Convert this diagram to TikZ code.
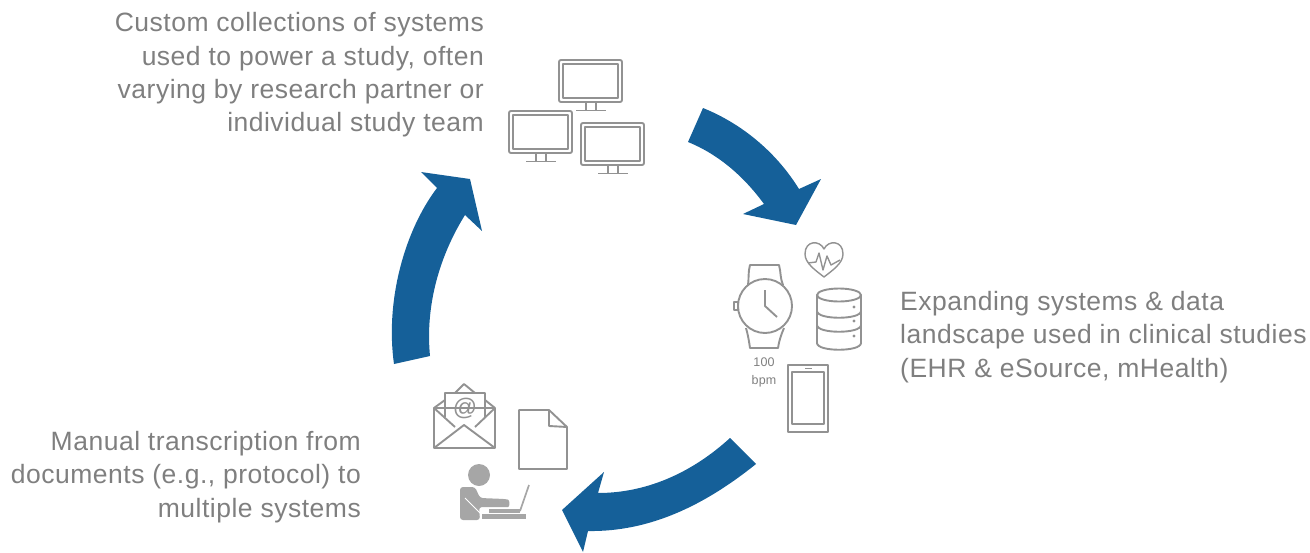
\documentclass[tikz,border=0pt]{standalone}
\usepackage{fontspec}
\setmainfont[LetterSpace=1.9]{Liberation Sans}
\definecolor{flowblue}{HTML}{156099}
\definecolor{icongray}{HTML}{929292}
\definecolor{captiongray}{HTML}{7F7F7F}
\definecolor{persongray}{HTML}{A6A6A6}
\tikzset{
  caption/.style={text=captiongray,font=\fontsize{26.5}{33.3}\selectfont,inner sep=0pt},
  flow/.style={fill=flowblue,draw=none},
  icon/.style={draw=icongray,line width=1.9pt,line join=round},
}
\begin{document}
\begin{tikzpicture}[x=1pt,y=-1pt]
  \useasboundingbox (0,0) rectangle (1310,552);

  % captions
  \node[caption,anchor=east,align=right] (systems) at (484,75)
    {Custom collections of systems\\used to power a study, often\\varying by research partner or\\individual study team};
  \node[caption,anchor=west,align=left] (landscape) at (900,337)
    {Expanding systems \& data\\landscape used in clinical studies\\(EHR \& eSource, mHealth)};
  \node[caption,anchor=east,align=right] (manual) at (361,477)
    {Manual transcription from\\documents (e.g., protocol) to\\multiple systems};

  % arrows
  \fill[flow] (703,108) .. controls (745,125) and (778,155) .. (799,189) -- (821,179) -- (796,225) -- (743,214) -- (764,204)
    .. controls (745,178) and (720,155) .. (688,142) -- cycle;
  \fill[flow] (730,438) .. controls (695,470) and (650,493) .. (598,493) -- (604,472) -- (562,510) -- (583,552) -- (588,531)
    .. controls (650,532) and (705,505) .. (756,464) -- cycle;
  \fill[flow] (394,364) .. controls (385,300) and (405,230) .. (437,188) -- (421,172) -- (470,179) -- (482,231) -- (465,215)
    .. controls (440,255) and (425,305) .. (430,356) -- cycle;

  % monitors
  \foreach \mx/\my in {559/60,509/111,581/123} {
    \begin{scope}[shift={(\mx,\my)}]
      \draw[icon,rounded corners=2pt] (0,0) rectangle (63,42);
      \draw[icon] (4,4) rectangle (59,38);
      \draw[icon] (27,42) -- (27,50) (37,42) -- (37,50) (17,50.5) -- (47,50.5);
    \end{scope}
  }

  % watch
  \draw[icon] (748,285) .. controls (749,278) and (748,272) .. (750,265) -- (779,265) .. controls (781,272) and (780,278) .. (783,285);
  \draw[icon] (746,328) .. controls (748,335) and (749,341) .. (750,348) -- (778,348) .. controls (779,341) and (781,335) .. (784,328);
  \draw[icon] (734,302) rectangle (738,310);
  \draw[icon,fill=white] (765,306) circle (27);
  \draw[icon] (765,290) -- (765,306) -- (777,317);
  \node[text=captiongray,font=\fontsize{12.5}{18}\selectfont,align=center,inner sep=0pt] (bpm) at (764,372) {100\\bpm};

  % heart
  \draw[icon,line width=1.4pt] (824,277) .. controls (815,270) and (805,263) .. (805,254)
    .. controls (805,240) and (820,240) .. (824,249)
    .. controls (828,240) and (843,240) .. (843,254)
    .. controls (843,263) and (833,270) .. (824,277) -- cycle;
  \draw[icon,line width=1.4pt] (808,263) -- (816,262) -- (819,253) -- (823,270) -- (827,256) -- (831,265) -- (840,260);

  % database
  \draw[icon] (817,295) -- (817,343) .. controls (817,352) and (861,352) .. (861,343) -- (861,295);
  \draw[icon] (839,295) ellipse (22 and 6.5);
  \foreach \dby in {311,325} {
    \draw[icon] (817,\dby) .. controls (817,\dby+9) and (861,\dby+9) .. (861,\dby);
  }
  \foreach \dby in {307,321,336} {
    \fill[icongray] (854,\dby) circle (1.7);
  }

  % phone
  \draw[icon] (788,365) rectangle (828,432);
  \draw[icon] (792,372) rectangle (824,424);
  \draw[icon] (805,368.5) -- (812,368.5);

  % envelope
  \draw[icon] (434,408) rectangle (495,448);
  \draw[icon] (445,417) -- (445,393) -- (485,393) -- (485,417);
  \draw[icon] (434,408) -- (445,400) (485,400) -- (495,408);
  \draw[icon] (455,393) -- (464,384) -- (475,393);
  \draw[icon] (434,408) -- (455,427) (495,408) -- (475,427);
  \draw[icon] (434,448) -- (464,425) -- (495,448);
  \node[text=icongray,font=\fontsize{24}{24}\selectfont,inner sep=0pt] (at) at (465,408) {@};

  % document
  \draw[icon] (549,410) -- (519,410) -- (519,469) -- (567,469) -- (567,427) -- (549,410) -- (549,426) -- (567,427);

  % person
  \fill[persongray] (479,475) circle (11);
  \fill[persongray,rounded corners=3pt] (460,520) -- (460,487) -- (475,487) -- (480,498) -- (505,499)
    .. controls (510,500) and (510,507) .. (505,507) -- (479,507) -- (480,520) -- cycle;
  \draw[white,line width=1pt] (465,498) -- (480,513);
  \fill[persongray] (482,514) rectangle (526,519);
  \fill[persongray] (489,509) rectangle (520,513);
  \draw[persongray,line width=1.7pt] (520,511) -- (529,485);
\end{tikzpicture}
\end{document}
